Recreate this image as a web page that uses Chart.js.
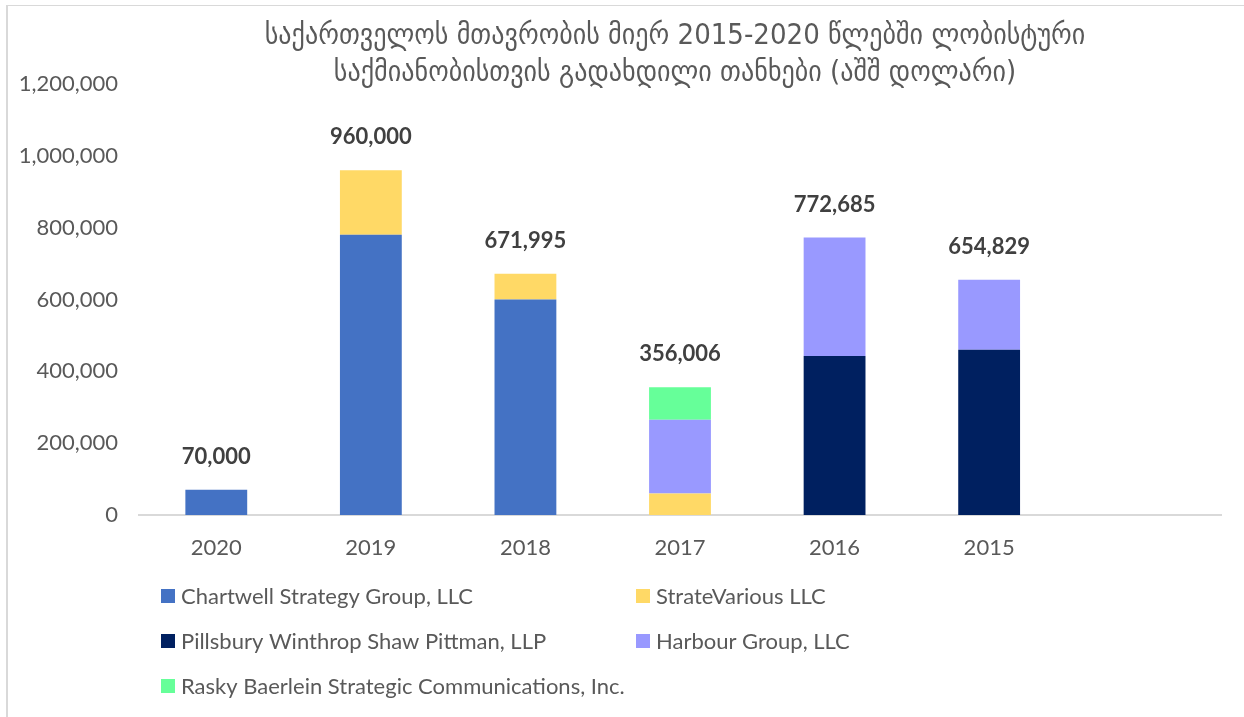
<!DOCTYPE html>
<html>
<head>
<meta charset="utf-8">
<script src="https://cdn.jsdelivr.net/npm/chart.js@4.4.0/dist/chart.umd.min.js"></script>
<style>
    html, body { margin: 0; padding: 0; background: #fff; }
    #wrap { position: relative; width: 1244px; height: 717px; }
    #frame { position: absolute; left: 6px; top: 5px; right: 0; bottom: 0;
             border-left: 2px solid #d9d9d9; border-top: 1px solid #d9d9d9; }
    canvas { position: absolute; left: 0; top: 0; }
</style>
</head>
<body>
<div id="wrap">
    <div id="frame"></div>
    <canvas id="lobbyChart" width="1244" height="717"></canvas>
</div>
<script>
// dados do gráfico
const years = ['2020', '2019', '2018', '2017', '2016', '2015', ''];
const chartwell = [70000, 780000, 600000, null, null, null, null];
const strateVarious = [null, 180000, 71995, 60000, null, null, null];
const pillsbury = [null, null, null, null, 443000, 460000, null];
const harbour = [null, null, null, 205000, 329685, 194829, null];
const rasky = [null, null, null, 91006, null, null, null];
const yTicks = [0, 200000, 400000, 600000, 800000, 1000000, 1200000];
const titleLines = [
    'საქართველოს მთავრობის მიერ 2015-2020 წლებში ლობისტური',
    'საქმიანობისთვის გადახდილი თანხები (აშშ დოლარი)'
];

const textGrey = '#595959';
const baseFont = 'Lato, "Open Sans", sans-serif';

// totais + título + legenda desenhados à mão
const extrasPlugin = {
    id: 'extras',
    afterDatasetsDraw(chart) {
        const c = chart.ctx;
        const x = chart.scales.x, y = chart.scales.y;
        const sets = chart.data.datasets;
        c.save();
        c.fillStyle = '#404040';
        c.font = 'bold 22px ' + baseFont;
        c.textAlign = 'center';
        c.textBaseline = 'middle';
        years.forEach((yr, i) => {
            let total = 0, has = false;
            sets.forEach(ds => { if (ds.data[i] != null) { total += ds.data[i]; has = true; } });
            if (!has) return;
            c.fillText(total.toLocaleString('en-US'), x.getPixelForValue(i), y.getPixelForValue(total) - 33);
        });

        // título
        const cx = (chart.chartArea.left + chart.chartArea.right) / 2 - 5;
        c.fillStyle = textGrey;
        c.font = '29px "DejaVu Sans Condensed", "DejaVu Sans", sans-serif';
        c.fillText(titleLines[0], cx, 36);
        c.fillText(titleLines[1], cx, 73);

        // legenda em duas colunas
        const colX = [161, 636];
        const rowY = [596, 641, 686];
        c.textAlign = 'left';
        c.font = '22px ' + baseFont;
        sets.forEach((ds, k) => {
            const lx = colX[k % 2], ly = rowY[Math.floor(k / 2)];
            c.fillStyle = ds.backgroundColor;
            c.fillRect(lx, ly - 7, 14, 14);
            c.fillStyle = textGrey;
            c.fillText(ds.label, lx + 20, ly + 1);
        });
        c.restore();
    }
};

const ctx = document.getElementById('lobbyChart');
new Chart(ctx, {
    type: 'bar',
    data: {
        labels: years,
        datasets: [
            { label: 'Chartwell Strategy Group, LLC', data: chartwell, backgroundColor: '#4472C4' },
            { label: 'StrateVarious LLC', data: strateVarious, backgroundColor: '#FFD966' },
            { label: 'Pillsbury Winthrop Shaw Pittman, LLP', data: pillsbury, backgroundColor: '#002060' },
            { label: 'Harbour Group, LLC', data: harbour, backgroundColor: '#9999FF' },
            { label: 'Rasky Baerlein Strategic Communications, Inc.', data: rasky, backgroundColor: '#66FF99' }
        ]
    },
    options: {
        responsive: false,
        animation: false,
        categoryPercentage: 0.4,
        barPercentage: 1,
        layout: {
            padding: { top: 84, right: 23, bottom: 152, left: 0 }
        },
        plugins: {
            legend: { display: false },
            title: { display: false },
            tooltip: { enabled: false }
        },
        scales: {
            x: {
                stacked: true,
                grid: { display: false, drawTicks: false },
                border: { color: '#d9d9d9', width: 2 },
                ticks: { color: textGrey, font: { family: baseFont, size: 22 }, padding: 20 },
                afterFit: function(scale) { scale.height = 50; }
            },
            y: {
                stacked: true,
                min: 0,
                max: 1200000,
                afterBuildTicks: function(scale) { scale.ticks = yTicks.map(v => ({ value: v })); },
                grid: { display: false, drawTicks: false },
                border: { display: false },
                ticks: {
                    color: textGrey,
                    font: { family: baseFont, size: 22 },
                    padding: 21,
                    callback: function(value) { return value.toLocaleString('en-US'); }
                },
                afterFit: function(scale) { scale.width = 139; }
            }
        }
    },
    plugins: [extrasPlugin]
});
</script>
</body>
</html>
